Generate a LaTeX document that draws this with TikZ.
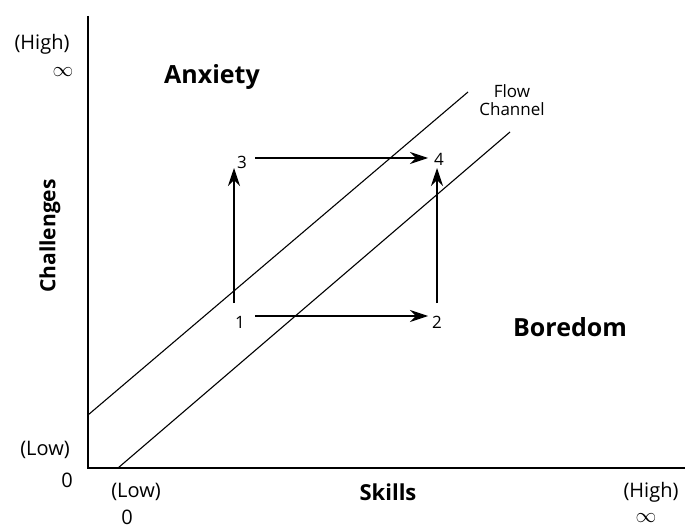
\documentclass[tikz,border=0pt]{standalone}
\usepackage{fontspec}
\setmainfont{Open Sans}
\usetikzlibrary{arrows.meta}
\begin{document}
\begin{tikzpicture}[x=1pt,y=-1pt,
  axisline/.style={line width=1.3pt},
  chan/.style={line width=1.1pt},
  move/.style={line width=1.1pt,-{Stealth[length=18pt,width=12pt,inset=6pt]}},
  head/.style={font=\bfseries\fontsize{25}{28}\selectfont},
  small/.style={font=\fontsize{20}{24}\selectfont},
  inf/.style={font=\fontsize{21}{24}\selectfont},
  num/.style={font=\fontsize{17}{20}\selectfont},
  tiny/.style={font=\fontsize{17}{19}\selectfont,align=center}]
\useasboundingbox (0,0) rectangle (685,529);
% axes
\coordinate (top) at (88,16);
\coordinate (origin) at (88,468);
\coordinate (right) at (685,468);
\draw[axisline] (top) -- (origin) -- (right);
% flow channel
\coordinate (u1) at (88,415);
\coordinate (u2) at (468,92);
\coordinate (l1) at (118,468);
\coordinate (l2) at (510,132);
\draw[chan] (u1) -- (u2);
\draw[chan] (l1) -- (l2);
% labels
\node[head] (anx) at (212,77) {Anxiety};
\node[head] (bor) at (570,327) {Boredom};
\node[tiny] (flow) at (512,100) {Flow\\[-1pt]Channel};
\node[head,font=\bfseries\fontsize{21}{24}\selectfont,rotate=90] (chal) at (50,236) {Challenges};
\node[head,font=\bfseries\fontsize{22}{24}\selectfont] (sk) at (388,492) {Skills};
\node[small] (hy) at (42,44) {(High)};
\node[inf] (iy) at (63,72) {$\infty$};
\node[small] (ly) at (45,450) {(Low)};
\node[small] (zy) at (67,480) {0};
\node[small] (lx) at (136,492) {(Low)};
\node[small,inner sep=0pt] (zx) at (127,517) {0};
\node[small] (hx) at (651,492) {(High)};
\node[inf,inner sep=0pt] (ix) at (646,518) {$\infty$};
% states
\node[num] (n1) at (240,322) {1};
\node[num] (n2) at (437,322) {2};
\node[num] (n3) at (242,162) {3};
\node[num] (n4) at (439,159) {4};
\coordinate (a1) at (234,303);
\coordinate (a3) at (234,168);
\coordinate (b1) at (255,316);
\coordinate (b2) at (428,316);
\coordinate (c3) at (255,158);
\coordinate (c4) at (428,158);
\coordinate (d2) at (437,303);
\coordinate (d4) at (437,168);
\draw[move] (a1) -- (a3);
\draw[move] (b1) -- (b2);
\draw[move] (c3) -- (c4);
\draw[move] (d2) -- (d4);
\end{tikzpicture}
\end{document}
